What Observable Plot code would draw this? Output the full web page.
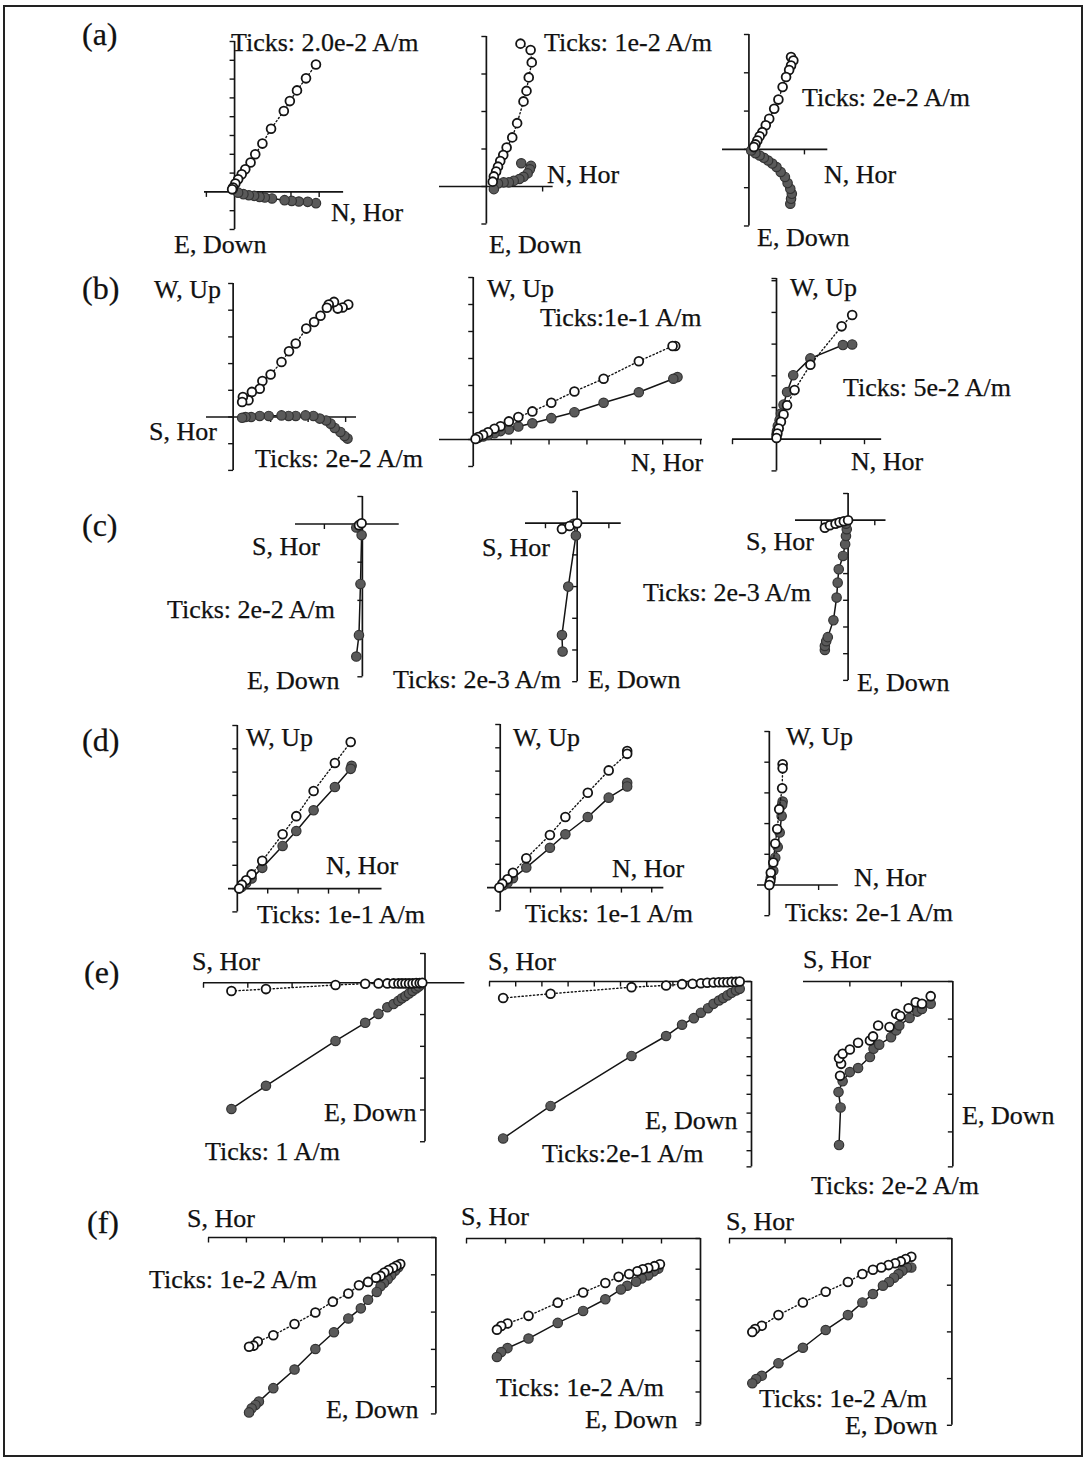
<!DOCTYPE html>
<html>
<head>
<meta charset="utf-8">
<script src="https://cdn.jsdelivr.net/npm/d3@7"></script>
<script src="https://cdn.jsdelivr.net/npm/@observablehq/plot@0.6"></script>
<style>
  html, body { margin: 0; padding: 0; background: #fff; }
  #fig { position: relative; width: 1086px; height: 1460px; overflow: hidden;
         font-family: "Liberation Serif", "Times New Roman", serif; color: #111; }
  #frame { position: absolute; left: 3px; top: 5px; width: 1080px; height: 1452px;
           border: 2px solid #222; box-sizing: border-box; }
  .lbl { position: absolute; font-size: 26px; line-height: 26px; white-space: nowrap;
         transform: translateY(-50%); -webkit-text-stroke: 0.25px #111; }
  .row { font-size: 32px; line-height: 32px; }
</style>
</head>
<body>
<div id="fig"><div id="frame"></div></div>
<script>
// Orthogonal demagnetisation (Zijderveld) projections, values in multiples of the tick spacing.
// "Vert" = vertical-plane projection (open circles), "Hor" = horizontal-plane projection (filled).

const a1Vert = [[4.33,6.78],[3.80,6.04],[3.32,5.40],[2.94,4.83],[2.62,4.30],[1.94,3.36],[1.48,2.57],[1.10,2.00],[0.85,1.56],[0.57,1.20],[0.38,0.94],[0.19,0.67],[0.04,0.44],[-0.08,0.23],[-0.13,0.14]];
const a1Hor  = [[4.33,-0.60],[3.89,-0.53],[3.42,-0.51],[3.04,-0.48],[2.66,-0.44],[1.99,-0.35],[1.61,-0.30],[1.33,-0.27],[1.04,-0.21],[0.76,-0.18],[0.47,-0.12],[0.19,-0.04],[-0.09,0.14]];
const a2Vert = [[0.91,3.81],[1.18,3.64],[1.21,3.31],[1.13,2.91],[1.07,2.55],[0.99,2.27],[0.82,1.69],[0.69,1.31],[0.54,1.04],[0.45,0.84],[0.37,0.68],[0.31,0.53],[0.26,0.40],[0.20,0.27],[0.17,0.13]];
const a2Hor  = [[0.93,0.62],[1.19,0.55],[1.16,0.46],[1.10,0.35],[0.99,0.26],[0.88,0.20],[0.73,0.15],[0.60,0.11],[0.46,0.11],[0.31,0.08],[0.20,-0.07]];
const a3Vert = [[1.10,2.41],[1.16,2.32],[1.10,2.19],[1.05,2.07],[0.97,1.89],[0.88,1.63],[0.77,1.30],[0.66,1.06],[0.53,0.80],[0.44,0.63],[0.35,0.45],[0.28,0.34],[0.22,0.23],[0.17,0.13],[0.13,0.06]];
const a3Hor  = [[1.08,-1.42],[1.10,-1.29],[1.12,-1.16],[1.08,-1.03],[1.01,-0.88],[0.94,-0.72],[0.83,-0.59],[0.72,-0.46],[0.61,-0.37],[0.50,-0.29],[0.39,-0.22],[0.28,-0.16],[0.17,-0.10],[0.06,-0.03]];

const b1Vert = [[3.07,4.21],[2.92,4.10],[2.79,4.06],[2.69,4.31],[2.55,4.21],[2.50,4.09],[2.33,3.79],[2.16,3.56],[1.95,3.31],[1.67,2.75],[1.49,2.46],[1.29,2.06],[1.00,1.59],[0.78,1.35],[0.71,1.06],[0.50,0.94],[0.41,0.63],[0.26,0.75],[0.24,0.56]];
const b1Hor  = [[3.05,-0.81],[2.97,-0.71],[2.86,-0.56],[2.71,-0.41],[2.60,-0.25],[2.48,-0.13],[2.31,-0.06],[2.14,0.04],[1.93,0.06],[1.67,0.04],[1.48,0.04],[1.29,0.06],[0.95,0.04],[0.71,0.04],[0.48,0],[0.33,0],[0.24,-0.03]];
const b2Vert = [[5.33,3.46],[5.26,3.46],[4.37,2.90],[3.44,2.25],[2.67,1.78],[2.06,1.36],[1.56,1.04],[1.19,0.83],[0.94,0.67],[0.72,0.49],[0.56,0.40],[0.39,0.27],[0.26,0.17],[0.13,0.09],[0.06,0.02]];
const b2Hor  = [[5.39,2.31],[5.28,2.25],[4.37,1.75],[3.44,1.36],[2.67,1.01],[2.06,0.79],[1.56,0.60],[1.19,0.48],[0.94,0.37],[0.72,0.31],[0.56,0.23],[0.39,0.17],[0.26,0.11],[0.13,0.06]];
const b3Vert = [[1.72,3.92],[1.48,3.56],[0.77,2.35],[0.41,1.55],[0.24,1.07],[0.16,0.78],[0.10,0.55],[0.05,0.34],[0.02,0.18],[0.00,0.04]];
const b3Hor  = [[1.72,2.99],[1.51,2.97],[0.77,2.55],[0.38,2.02],[0.24,1.49],[0.16,1.09],[0.10,0.81],[0.07,0.60],[0.03,0.42],[0.01,0.26],[0.00,0.15]];

const c1Vert = [[-0.09,-0.03],[-0.02,0.02]];
const c1Hor  = [[-0.16,-3.47],[-0.09,-2.91],[-0.05,-1.57],[-0.02,-0.29],[-0.16,-0.09]];
const c2Vert = [[-0.48,-0.18],[-0.24,-0.09],[0,0]];
const c2Hor  = [[-0.46,-4.05],[-0.48,-3.53],[-0.28,-2.0],[-0.04,-0.39],[-0.11,-0.02]];
const c3Vert = [[-0.87,-0.28],[-0.68,-0.19],[-0.47,-0.13],[-0.32,-0.08],[-0.16,-0.04],[0,0]];
const c3Hor  = [[-0.87,-4.86],[-0.87,-4.71],[-0.82,-4.53],[-0.76,-4.38],[-0.55,-3.75],[-0.43,-2.90],[-0.39,-2.34],[-0.35,-1.84],[-0.19,-1.34],[-0.11,-0.90],[-0.08,-0.59],[-0.05,-0.34],[-0.08,-0.13]];

const d1Vert = [[3.73,6.29],[3.21,5.39],[2.51,4.19],[1.94,3.11],[1.49,2.33],[0.82,1.19],[0.47,0.61],[0.29,0.36],[0.15,0.17],[0.06,0.0]];
const d1Hor  = [[3.76,5.27],[3.73,5.14],[3.21,4.36],[2.51,3.36],[1.94,2.47],[1.49,1.83],[0.82,0.89],[0.47,0.43],[0.29,0.24],[0.14,0.07]];
const d2Vert = [[4.19,5.86],[4.19,5.74],[3.58,5.03],[2.89,4.07],[2.15,3.03],[1.64,2.26],[0.86,1.26],[0.42,0.64],[0.24,0.36],[0.07,0.17],[-0.03,0]];
const d2Hor  = [[4.19,4.50],[4.19,4.34],[3.58,3.86],[2.89,3.03],[2.15,2.29],[1.64,1.71],[0.86,0.86],[0.42,0.40],[0.24,0.21],[0.10,0.10]];
const d3Vert = [[0.27,3.93],[0.27,3.80],[0.26,3.15],[0.20,2.47],[0.16,1.82],[0.12,1.35],[0.08,0.73],[0.03,0.40],[0.02,0.13],[0,0]];
const d3Hor  = [[0.27,2.72],[0.26,2.61],[0.25,2.25],[0.21,1.71],[0.17,1.24],[0.12,0.89],[0.08,0.46],[0.03,0.24],[0.01,0.08]];

const e1Vert = [[-4.37,-0.26],[-3.59,-0.20],[-2.02,-0.07],[-1.35,-0.03],[-1.05,-0.02],[-0.85,-0.02],[-0.71,-0.02],[-0.60,-0.02],[-0.52,-0.02],[-0.44,-0.02],[-0.36,-0.02],[-0.28,-0.02],[-0.20,-0.01],[-0.12,-0.01],[-0.06,0]];
const e1Hor  = [[-4.37,-3.97],[-3.59,-3.24],[-2.02,-1.83],[-1.35,-1.26],[-1.05,-0.98],[-0.85,-0.77],[-0.71,-0.67],[-0.60,-0.57],[-0.52,-0.49],[-0.44,-0.42],[-0.36,-0.34],[-0.28,-0.26],[-0.20,-0.18],[-0.14,-0.12],[-0.08,-0.05]];
const e2Vert = [[-9.48,-0.88],[-7.67,-0.65],[-4.58,-0.30],[-3.26,-0.21],[-2.65,-0.14],[-2.25,-0.12],[-1.93,-0.09],[-1.69,-0.07],[-1.45,-0.05],[-1.25,-0.04],[-1.08,-0.04],[-0.92,-0.04],[-0.76,-0.02],[-0.59,-0.02],[-0.45,0]];
const e2Hor  = [[-9.48,-8.35],[-7.67,-6.62],[-4.58,-3.96],[-3.26,-2.90],[-2.65,-2.30],[-2.20,-1.95],[-1.93,-1.66],[-1.66,-1.42],[-1.45,-1.19],[-1.24,-1.01],[-1.08,-0.88],[-0.92,-0.74],[-0.76,-0.60],[-0.59,-0.48],[-0.45,-0.39]];
const e3Vert = [[-2.19,-2.51],[-2.17,-2.19],[-2.21,-2.04],[-2.14,-1.92],[-2.0,-1.81],[-1.84,-1.63],[-1.61,-1.57],[-1.55,-1.46],[-1.45,-1.17],[-1.23,-1.21],[-1.10,-0.86],[-1.02,-0.92],[-0.86,-0.71],[-0.72,-0.55],[-0.60,-0.59],[-0.43,-0.39]];
const e3Hor  = [[-2.21,-4.35],[-2.18,-3.35],[-2.22,-2.94],[-2.14,-2.65],[-2.0,-2.41],[-1.84,-2.30],[-1.61,-2.01],[-1.54,-1.79],[-1.43,-1.68],[-1.20,-1.48],[-1.10,-1.30],[-1.04,-1.17],[-0.84,-0.97],[-0.69,-0.80],[-0.60,-0.73],[-0.43,-0.59]];

const f1Vert = [[-0.94,-0.71],[-1.04,-0.76],[-1.13,-0.81],[-1.25,-0.87],[-1.36,-0.94],[-1.46,-1.03],[-1.58,-1.08],[-1.79,-1.19],[-2.03,-1.28],[-2.31,-1.50],[-2.72,-1.72],[-3.18,-2.01],[-3.73,-2.32],[-4.29,-2.62],[-4.70,-2.79],[-4.81,-2.90],[-4.93,-2.93]];
const f1Hor  = [[-0.99,-0.80],[-1.08,-0.89],[-1.18,-1.01],[-1.27,-1.12],[-1.37,-1.22],[-1.46,-1.31],[-1.56,-1.46],[-1.79,-1.67],[-1.98,-1.90],[-2.31,-2.17],[-2.69,-2.54],[-3.18,-2.99],[-3.73,-3.54],[-4.29,-4.04],[-4.67,-4.40],[-4.76,-4.49],[-4.86,-4.58],[-4.93,-4.69]];
const f2Vert = [[-1.04,-0.84],[-1.18,-0.90],[-1.34,-0.96],[-1.48,-1.0],[-1.62,-1.07],[-1.83,-1.16],[-2.10,-1.25],[-2.44,-1.45],[-3.01,-1.76],[-3.66,-2.09],[-4.41,-2.52],[-4.95,-2.77],[-5.11,-2.85],[-5.22,-2.97]];
const f2Hor  = [[-1.08,-0.98],[-1.20,-1.07],[-1.34,-1.20],[-1.51,-1.30],[-1.65,-1.41],[-1.88,-1.54],[-2.04,-1.66],[-2.44,-1.98],[-3.01,-2.36],[-3.66,-2.75],[-4.41,-3.26],[-4.95,-3.57],[-5.11,-3.70],[-5.22,-3.86]];
const f3Vert = [[-0.73,-0.39],[-0.83,-0.44],[-0.92,-0.49],[-1.02,-0.53],[-1.14,-0.57],[-1.27,-0.62],[-1.42,-0.67],[-1.61,-0.76],[-1.87,-0.93],[-2.27,-1.14],[-2.68,-1.37],[-3.12,-1.64],[-3.42,-1.87],[-3.54,-1.94],[-3.59,-2.0]];
const f3Hor  = [[-0.73,-0.62],[-0.81,-0.62],[-0.89,-0.69],[-0.96,-0.76],[-1.04,-0.84],[-1.13,-0.93],[-1.24,-1.01],[-1.42,-1.19],[-1.61,-1.37],[-1.87,-1.64],[-2.27,-1.96],[-2.68,-2.34],[-3.12,-2.67],[-3.42,-2.94],[-3.52,-3.01],[-3.59,-3.10]];

// Row letters and tick-spacing notes, one per diagram (rows a–f, left to right)
const rowLetters = ["(a)", "(b)", "(c)", "(d)", "(e)", "(f)"];
const tickNotes = [
  "Ticks: 2.0e-2 A/m", "Ticks: 1e-2 A/m", "Ticks: 2e-2 A/m",
  "Ticks: 2e-2 A/m", "Ticks:1e-1 A/m", "Ticks: 5e-2 A/m",
  "Ticks: 2e-2 A/m", "Ticks: 2e-3 A/m", "Ticks: 2e-3 A/m",
  "Ticks: 1e-1 A/m", "Ticks: 1e-1 A/m", "Ticks: 2e-1 A/m",
  "Ticks: 1 A/m", "Ticks:2e-1 A/m", "Ticks: 2e-2 A/m",
  "Ticks: 1e-2 A/m", "Ticks: 1e-2 A/m", "Ticks: 1e-2 A/m"
];
const horizLabels = ["N, Hor","N, Hor","N, Hor","S, Hor","N, Hor","N, Hor","S, Hor","S, Hor","S, Hor",
                     "N, Hor","N, Hor","N, Hor","S, Hor","S, Hor","S, Hor","S, Hor","S, Hor","S, Hor"];
const vertLabels  = ["E, Down","E, Down","E, Down","W, Up","W, Up","W, Up","E, Down","E, Down","E, Down",
                     "W, Up","W, Up","W, Up","E, Down","E, Down","E, Down","E, Down","E, Down","E, Down"];

// Layout of each diagram: origin on the page, pixels per tick, axis extents, label spots [left, centre-y]
const panels = [
  {vert:a1Vert, hor:a1Hor, ox:234,   oy:191,    ux:18.8, uy:18.8, x:[-1.6,5.8],  y:[-2,8],      xStep:1.5,  note:[231,43],   hl:[331,213],  vl:[174,245]},
  {vert:a2Vert, hor:a2Hor, ox:486,   oy:185.7,  ux:37.5, uy:37.5, x:[-1.25,1.78],y:[-1,4],      xStep:1.5,  note:[544,43],   hl:[547,175],  vl:[489,245]},
  {vert:a3Vert, hor:a3Hor, ox:748.4, oy:149,    ux:38.3, uy:38.3, x:[-0.69,2.06],y:[-2,3],      xStep:1.45, note:[802,98],   hl:[824,175],  vl:[757,238]},
  {vert:b1Vert, hor:b1Hor, ox:233,   oy:416.7,  ux:37.5, uy:26.7, x:[-0.71,3.29],y:[-2,5],      xStep:1,    note:[255,459],  hl:[149,432],  vl:[154,290]},
  {vert:b2Vert, hor:b2Hor, ox:472.6, oy:439,    ux:37.9, uy:27,   x:[-0.89,6.05],y:[-1,6],      xStep:1,    note:[540,318],  hl:[631,463],  vl:[487,289]},
  {vert:b3Vert, hor:b3Hor, ox:775.7, oy:439,    ux:44,   uy:31.7, x:[-1,2.39],   y:[-1,5.07],   xStep:1,    note:[843,388],  hl:[851,462],  vl:[790,288]},
  {vert:c1Vert, hor:c1Hor, ox:361.8, oy:524,    ux:38,   uy:38.2, x:[-1.76,0.97],y:[-4,0.72],   xStep:1,    note:[167,610],  hl:[252,547],  vl:[247,681]},
  {vert:c2Vert, hor:c2Hor, ox:577,   oy:522.7,  ux:31.7, uy:31.7, x:[-1.63,1.39],y:[-5,1],      xStep:1,    note:[393,680],  hl:[482,548],  vl:[588,680]},
  {vert:c3Vert, hor:c3Hor, ox:847.3, oy:519.3,  ux:26.7, uy:26.7, x:[-1.97,1.42],y:[-6,1],      xStep:1,    note:[643,593],  hl:[746,542],  vl:[857,683]},
  {vert:d1Vert, hor:d1Hor, ox:236.7, oy:888.3,  ux:30.4, uy:23.3, x:[-0.29,4.76],y:[-1,7],      xStep:1,    note:[257,915],  hl:[326,866],  vl:[246,738]},
  {vert:d2Vert, hor:d2Hor, ox:500,   oy:886.7,  ux:30.3, uy:23.3, x:[-0.42,5.4], y:[-1,7],      xStep:1,    note:[525,914],  hl:[612,869],  vl:[513,738]},
  {vert:d3Vert, hor:d3Hor, ox:768.6, oy:884,    ux:49.3, uy:30.7, x:[-0.24,1.4], y:[-1,5],      xStep:1,    note:[785,913],  hl:[854,878],  vl:[786,737]},
  {vert:e1Vert, hor:e1Hor, ox:424.3, oy:982.7,  ux:44.3, uy:31.8, x:[-5,0.9],    y:[-5,0.92],   xStep:1,    note:[205,1152], hl:[192,962],  vl:[324,1113]},
  {vert:e2Vert, hor:e2Hor, ox:750.5, oy:981,    ux:26.2, uy:18.8, x:[-10,0],     y:[-9.86,0],   xStep:1,    note:[542,1154], hl:[488,962],  vl:[645,1121]},
  {vert:e3Vert, hor:e3Hor, ox:952.6, oy:981,    ux:51.5, uy:37.6, x:[-2.9,0],    y:[-4.93,0],   xStep:1,    note:[811,1186], hl:[803,960],  vl:[962,1116], noVertLine:true},
  {vert:f1Vert, hor:f1Hor, ox:435,   oy:1236.7, ux:37.9, uy:37.3, x:[-6,0],      y:[-4.73,0],   xStep:1,    note:[149,1280], hl:[187,1219], vl:[326,1410]},
  {vert:f2Vert, hor:f2Hor, ox:700,   oy:1238.3, ux:39,   uy:30.7, x:[-6,0],      y:[-6.08,0],   xStep:1,    note:[496,1388], hl:[461,1217], vl:[585,1420]},
  {vert:f3Vert, hor:f3Hor, ox:951.3, oy:1237.7, ux:55.6, uy:46.7, x:[-4,0],      y:[-4,0],      xStep:1,    note:[759,1399], hl:[726,1222], vl:[845,1426]}
];
const rowLetterSpots = [[82,34],[82,288],[82,525],[82,740],[84,972],[87,1222]];

const fig = document.getElementById("fig");
const ink = "#141414";

// Short tick strokes drawn as custom dot symbols: left of the vertical axis, below the horizontal one
const tickLeft = {draw(ctx) { ctx.moveTo(-5, 0); ctx.lineTo(0, 0); }};
const tickDown = {draw(ctx) { ctx.moveTo(0, 0); ctx.lineTo(0, 5); }};

function multiples(lo, hi, step) {
  const out = [];
  for (let k = Math.ceil(lo / step - 1e-9); k * step <= hi + 1e-9; k++) out.push(+(k * step).toFixed(4));
  return out;
}

function addLabel(text, [left, cy], cls) {
  const el = document.createElement("div");
  el.className = "lbl" + (cls ? " " + cls : "");
  el.textContent = text;
  el.style.left = left + "px";
  el.style.top = cy + "px";
  fig.appendChild(el);
}

panels.forEach((p, i) => {
  const M = 16;
  const W = (p.x[1] - p.x[0]) * p.ux + 2 * M;
  const H = (p.y[1] - p.y[0]) * p.uy + 2 * M;
  const yTicks = Array.from(new Set([p.y[0], ...multiples(p.y[0], p.y[1], 1), p.y[1]]));
  const xTicks = multiples(p.x[0], p.x[1], p.xStep).filter(v => v !== 0);
  const px = d => d[0], py = d => d[1];

  const svg = Plot.plot({
    width: W, height: H, margin: 0,
    x: {domain: p.x, range: [M, W - M], axis: null},
    y: {domain: p.y, range: [H - M, M], axis: null},
    style: {overflow: "visible", background: "transparent"},
    marks: [
      Plot.ruleY([0], {x1: p.x[0], x2: p.x[1], stroke: ink, strokeWidth: 1.7}),
      Plot.ruleX([0], {y1: p.y[0], y2: p.y[1], stroke: ink, strokeWidth: 1.7}),
      Plot.dot(yTicks, {x: 0, y: d => d, symbol: tickLeft, fill: "none", stroke: ink, strokeWidth: 1.4}),
      Plot.dot(xTicks, {x: d => d, y: 0, symbol: tickDown, fill: "none", stroke: ink, strokeWidth: 1.4}),
      Plot.line(p.hor, {x: px, y: py, stroke: ink, strokeWidth: 1.5}),
      Plot.dot(p.hor, {x: px, y: py, r: 4.7, fill: "#5a5a5a", stroke: "#333", strokeWidth: 1.2}),
      p.noVertLine ? null : Plot.line(p.vert, {x: px, y: py, stroke: ink, strokeWidth: 1.4, strokeDasharray: "1.3,2.5"}),
      Plot.dot(p.vert, {x: px, y: py, r: 4.4, fill: "white", stroke: ink, strokeWidth: 1.8})
    ]
  });
  svg.style.position = "absolute";
  svg.style.left = (p.ox + p.x[0] * p.ux - M) + "px";
  svg.style.top = (p.oy - p.y[1] * p.uy - M) + "px";
  fig.appendChild(svg);

  addLabel(tickNotes[i], p.note);
  addLabel(horizLabels[i], p.hl);
  addLabel(vertLabels[i], p.vl);
});

rowLetters.forEach((t, r) => addLabel(t, rowLetterSpots[r], "row"));
</script>
</body>
</html>
